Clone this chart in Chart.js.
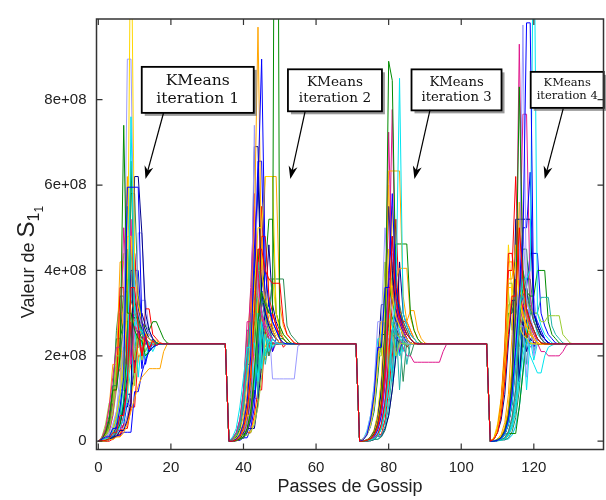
<!DOCTYPE html>
<html lang="fr">
<head>
<meta charset="utf-8">
<title>Valeur de S11 - passes de gossip</title>
<script src="https://cdn.jsdelivr.net/npm/chart.js@4.4.0/dist/chart.umd.min.js"></script>
<style>
  html, body { margin: 0; padding: 0; background: #fff; }
</style>
</head>
<body>
<canvas id="graphe" width="606" height="500"></canvas>
<script>
// ==================== DONNEES ====================
// passes de debut / fin de chaque iteration KMeans
const passesDebut = [0, 36, 72, 108];
const passesFin = [35, 71, 107, 139];
// valeur atteinte par tous les noeuds (unite 1e7)
const valeurFinale = 22.8;
const ticksX = [0, 20, 40, 60, 80, 100, 120];
const ticksY = [0, 2e8, 4e8, 6e8, 8e8];

// une ligne par noeud, valeurs par passe depuis le debut de l'iteration (unite 1e7)
const iteration1 = [
  [0,0.2,0.2,0.6,2,2,6,6,14,36,36,27,20,25,21.5,23.6,22.4,23,22.8],
  [0,0.5,1,1,3,3,8,15,59.5,59.5,59.5,59.5,28,24,21,22,22.5,22.8],
  [0,0.5,2,5,12,12,20,74,30,30,26,24,23.5,20,21,22,23,22.8],
  [0,0.3,0.6,0.6,2,2,3.5,5,10,76,30,26,26,24,23,22.8],
  [0,0,0.5,1,3,6,11,20,30,130,40,32,28,25,24,23,22.8],
  [0,0,0,0.4,0.4,1,1,2,4,7,10,13,15,16,17,17,17,17,21,22.8],
  [0,0.8,3,8,15,22,22,50,35,18,27,25,21,24,23,22.5,22.8],
  [0,0.5,1,2,4,7,12,25,89.5,89.5,35,30,27,25,24,23,22.8],
  [0,0.6,2.5,6,13,13,20,28,45,33,30,28,26,25,24,23.5,23,22.8],
  [0,0,0,0.4,1,1,2.5,2.5,5,9,62,62,48.8,30,26,24,23,22.8],
  [0,1,4,9,9,20,20,12,38,30,19,25,24,21,23,22.8],
  [0,0.2,0.5,1,1,3,6,14,55,40,32,28,25,24,23,22.8],
  [0,0.3,2,5,12,12,36,36,18,28,16,25,20,24,22,23,22.8],
  [0,0.3,0.6,0.6,1.2,1.2,1.5,2.1,2.1,2.1,11.6,11.6,16,19,21,22,22.5,22.8],
  [0,0,0.3,0.8,0.8,2,4,9,24,65.6,33,29,26,24,23,22.8],
  [0,0.2,0.4,1,2,2,5,10,18,12,28,15,24,19,23,21,22.8],
  [0,0.5,2,5,12,12,30,30,48,48,30,27,25,24,23,22.8],
  [0,1,3,8,18,18,42,42,30,30,27,20,20,24,23,22.8],
  [0,0,0.2,0.4,1,2.5,2.5,6,12,52,30,27,25,23.5,23,22.8],
  [0,0,0.2,0.5,1.5,1.5,3,3,6,12,22,48.8,48.8,28,25,24,23,22.8],
  [0,0.8,2,4,10,26,34,34,14,27,20,24,21,23,22.8],
  [0,0,0.3,0.8,0.8,2,4,8,16,40,40,31,28,26,24,23,22.8],
  [0,0.6,1.5,3,7,15,21,21,9,26,13,24,19,23,22.8],
  [0,0,0.4,1.2,3,6,11,19,25,30,30,27,25,24,23,22.8],
  [0,0,0,0,0.5,1.5,1.5,4,4,9,44,31,27,25,24,23,22.8],
  [0,0.2,0.5,1.2,1.2,2.5,2.5,4,9,8,44,30,17,25,21,23,22.8],
  [0,1,2.5,5,12,24,24,28,28,29,29,27,27,27,26,28,28,26,24,23,22.8],
  [0,0,0.3,1,2.5,5,10,19,26,33,33,27,25,24,23,22.8],
  [0,0.2,0.5,0.5,1,1,2,3.5,6,10,15,19,22,25,25,24,23.5,23,22.8],
  [0,0,0.2,0.6,1.8,4.5,12,35,62,40,30,27,25,23.5,22.8],
  [0,0.8,2,4.5,9,15,17,17,20,20,22,22,22.5,22.8],
  [0,0,0.5,1.2,3,7,16,30,30,38,29,26,25,24,23.2,22.8],
  [0,0,0.2,0.5,0.5,1.5,4,9,18,58,58,34,28,26,24,23,22.8],
  [0,0.2,0.5,1,2,3,5,8,8,12,19,26,30,27,25,24,23,22.8],
  [0,0.3,1,3,8,17,28,44,44,30,26,24,23,22.8],
  [0,0.2,0.6,1.4,3,6,12,22,32,36,29,27,25,24,23,22.8],
  [0,0,0.2,0.4,0.4,1.2,1.2,3,3,8,8,20,20,31,31,25,24,23,22.8],
  [0,0.1,0.3,1,1,4,12,12,20,24,40,40,26,18,22,24,23,22.8],
  [0,0.3,1.2,3.5,13,13,24,35,35,28,22,26,24,23.5,22.8],
  [0,0,0,0.3,0.9,2.5,6,15,15,22,30,30,27,21,23,22.8],
  [0,0.4,1.5,4,9,18,26,26,42,30,27,25,24,23,22.8],
  [0,0,0.3,0.8,1.6,3,8,14,14,18,25,34,28,24,23,22.8],
  [0,0.2,0.7,2,6,14,30,30,24,36,28,25,24,23,22.8],
  [0,0,0.1,0.3,1,3,5,9,14,20,25,25,33,33,26,24,23,22.8],
  [0,0.2,0.5,1,2.5,6,11,22,16,25,31,26,24,23,22.8],
  [0,0,0.2,0.6,1.4,2.5,5,7,11,11,17,23,27,25,24,23,22.8],
  [0,0.3,1,2.5,6,12,19,28,33,25,22,24,23,22.8],
  [0,0,0.2,0.5,1.2,1.2,2.8,6,12,45,31,27,25,24,23,22.8]
];

const iteration2 = [
  [0,0,0.3,1,3,7,15,30,45,45,40,38,37,37,37,28,25,24,23,22.8],
  [0,0,0.5,1.5,4,9,20,45,60,89.5,40,32,28,26,24,23,22.8],
  [0,0,0.2,0.5,1,3,7,16,28,35,32,30,30,250,24,24,23,22.8],
  [0,1,3,8,15,22,22,12,30,17,25,21,24,23,22.8],
  [0,0,0.3,1.2,3.5,8,18,35,50,50,62,62,62,30,26,24,23,22.8],
  [0,0,0.4,1.5,4,10,24,50,97,40,32,28,26,24,23,22.8],
  [0,0.6,2,5,12,28,28,55,38,30,27,25,24,23,22.8],
  [0,0,0.3,1,3,8,20,74,35,30,27,25,24,23,22.8],
  [0,0,0.2,0.5,0.8,2.5,6,13,24,32,33,30,38,38,38,38,27,25,24,23,22.8],
  [0,0,0.4,1.2,3.5,9,22,69,69,35,30,27,25,24,23,22.8],
  [0,0,1.4,1.4,1.4,1.4,2,4,8,15,24,27,26,24,23,22.8],
  [0,0.5,1.5,4,9,18,30,30,42,34,29,26,24,23,22.8],
  [0,0,0.3,0.6,1,2.5,6,14,26,48,48,34,30,27,25,24,23,22.8],
  [0,0,0.4,1.5,4,10,22,40,65.6,65.6,30,28,26,24,23,22.8],
  [0,0,0.2,0.8,1.5,2.5,6,14,28,36,40,52,52,30,27,25,24,23,22.8],
  [0,0.6,1.8,4.5,10,17,23,23,14,28,20,24,22,23,22.8],
  [0,0,0.3,0.6,1,3,7,16,32,44,34,30,27,25,24,23,22.8],
  [0,0,0.2,0.8,2.5,6,15,30,40,40,62,62,62,62,32,27,25,24,23,22.8],
  [0,0.5,1.5,4,9,20,36,58,34,29,26,24,23,22.8],
  [0,0,0.4,0.8,1.2,3.5,8,18,30,40,30,27,25,24,23,22.8],
  [0,0.8,2,5,12,26,26,40,18,27,25,20,23,22.8],
  [0,0,0.2,0.8,2,3,3,3,9,18,32,46,32,28,26,24,23,22.8],
  [0,0,0.3,1,2.8,7,15,26,33,29,27,25,24,23,22.8],
  [0,0.5,1.4,3.5,8,17,27,27,10,25,18,23,22,22.8],
  [0,0,0.3,1,3,7,17,36,36,55,31,28,26,24,23,22.8],
  [0,0,0.2,0.7,0.7,2,5,11,20,26,30,32,28,26,24,23,22.8],
  [0,0.5,1.5,4,9,19,28,28,16,24,20,23,22.8],
  [0,0,0.3,0.6,1,3,7,13,19,24,27,25,24,23,22.8],
  [0,0,0.2,0.5,0.8,2.2,2.2,5,10,18,28,38,38,30,27,25,24,23,22.8],
  [0,0.6,1.8,4.5,11,22,33,33,20,26,19,23,22.8],
  [0,0,0.3,1,3,7,14,22,30,44,32,28,26,24,23,22.8],
  [0,0,0.3,1,3,7,14,22,28,30,30,28,14.6,14.6,14.6,14.6,14.6,14.6,14.6,22.3,22.8],
  [0,0,0.2,0.5,0.7,2,5,12,24,40,31,27,25,24,23,22.8],
  [0,0,0.3,1,3,7,16,34,62,34,29,26,24,23,22.8],
  [0,0.5,1.5,4,10,21,35,35,12,29,20,24,23,22.8],
  [0,0,0.3,1.2,3.5,8,17,29,38,31,27,25,24,23,22.8],
  [0,0,0.1,0.4,1,2,2,6,12,12,26,20,30,27,24,22,23,22.8],
  [0,0,0.2,0.2,0.8,0.8,3,8,20,35,35,27,21,24,23,22.8],
  [0,0.3,1,3,8,18,18,32,45,30,26,24,23,22.8],
  [0,0,0.1,0.3,1,2.5,6,14,22,16,26,22,24,23,22.8],
  [0,0,0.4,1.2,3,6,6,14,14,30,30,25,24,23,22.8],
  [0,0.2,0.8,2.5,6,14,32,50,34,27,22,24,23,22.8],
  [0,0,0.2,0.6,1.6,4,9,18,26,34,28,24,21,23,22.8],
  [0,0,0.1,0.5,1.5,3.5,3.5,10,10,22,27,25,24,23,22.8],
  [0,0,0.3,1,2.6,6,12,26,38,29,27,25,24,23,22.8],
  [0,0,0.2,0.6,1.7,4,10,10,18,28,28,33,26,24,23,22.8],
  [0,0.2,0.6,1.8,4.5,10,20,20,26,23,25,24,23,22.8],
  [0,0,0.2,0.8,2.2,5,11,23,34,26,21,24,23,22.8]
];

const iteration3 = [
  [0,0,0.2,0.5,1.5,3.5,8,16,30,48,33,29,27,25,24,23,22.8],
  [0,0.3,1.5,5,11,22,22,36,36,58,36,30,27,25,24,23,22.8],
  [0,0,0.2,0.6,1.8,4,9,20,89,84.5,36,30,27,25,24,23,22.8],
  [0,0,0.1,0.3,0.6,1.2,3,7,14,26,34,85,30,27,25,24,23,22.8],
  [0,0.4,1.5,4,9,18,28,28,45,34,29,27,25,24,23,22.8],
  [0,0,0.3,0.8,2,5,10,24,63.3,63.3,63.3,63.3,34,28,26,24,23,22.8],
  [0,0,0.2,0.5,1.5,3.5,8,18,36,77.7,32,28,26,24,23,22.8],
  [0,0.5,2,6,13,28,28,50,36,30,27,25,24,23,22.8],
  [0,0,0.1,0.2,0.4,1.2,3,7,15,26,32,32,28,26,24,23,22.8],
  [0,0,0.3,0.9,2.2,5,12,26,55,40,31,28,26,24,23,22.8],
  [0,0.4,1.8,4.5,10,21,21,34,16,26,20,23,22.8],
  [0,0,0.2,0.2,0.5,0.5,1.4,3.5,8,16,28,12,25,18,23,22.8],
  [0,0,0.2,0.4,0.6,1.6,4,9,19,34,40,29,28,28,26,24,23,22.8],
  [0,0,0.2,0.6,1.6,4,10,22,40,48,33,29,26,24,23,22.8],
  [0,0,0.2,0.6,1.7,4,9,18,30,38,46.2,46.2,46.2,46.2,30,26,24,23,22.8],
  [0,0.5,2.4,6,13,24,24,34,30,27,25,24,23,22.8],
  [0,0,0.2,0.3,0.5,1.4,3.5,8,16,55,35,30,27,25,24,23,22.8],
  [0,0,0.2,0.7,1.8,4.5,10,20,32,36,38,40.5,40.5,40.5,29,26,24,23,22.8],
  [0,0,0.3,0.8,2,5,11,25,72.4,38,30,27,25,24,23,22.8],
  [0,0.4,1.5,3.6,8,17,28,28,15,25,20,23,22.8],
  [0,0,0.3,0.9,2.3,5.5,12,23,38,38,30,27,25,24,23,22.8],
  [0,0,0.1,0.1,0.4,1.2,1.2,3,6,12,20,42,30,27,25,24,23,22.8],
  [0,0.4,1.6,4,9,20,20,42,32,28,26,24,23,22.8],
  [0,0,0.2,0.3,0.5,1.3,3,7,14,22,27,27,25,24,23,22.8],
  [0,0,0.3,0.8,2,5,11,24,36,36,52,31,28,26,24,23,22.8],
  [0,0,0.2,0.3,0.6,1.5,3.8,9,18,26,31,28,25,24,23,22.8],
  [0,0.5,1.4,3.4,7,15,25,25,32,29,27,25,24,23,22.8],
  [0,0,0.3,0.8,2,5,11,22,30,14,24,20,23,22.8],
  [0,0,0.3,1,2.6,6.5,15,34,60,38,30,27,25,24,23,22.8],
  [0,0,0.2,0.6,1.5,3.8,9,19,30,35,33,30,28,28,30.6,30.6,26,24,23,22.8],
  [0,0,0.2,0.5,1.4,3.3,7,14,22,26,26,24,22,20,20,18.5,18.5,18.5,18.5,18.5,18.5,18.5,18.5,21,22.8],
  [0,0,0.2,0.4,0.7,1.8,4.4,10,21,44,31,28,26,24,23,22.8],
  [0,0,0.1,0.1,0.4,0.4,1,2.5,6,12,20,24,14,23.5,20,22.8],
  [0,0.6,1.6,4,9,19,32,32,27,25,24,23,22.8],
  [0,0,0.3,0.9,2.3,5.5,12,25,25,29,26,24,23,22.8],
  [0,0,0.2,0.6,1.5,3.6,8,16,27,36,30,27,25,24,23,22.8],
  [0,0,0,0.2,0.6,1.6,1.6,5,12,20,28,28,24,22,23,22.8],
  [0,0,0.1,0.4,1.1,2.7,6,14,30,42,28,20,25,23,22.8],
  [0,0,0.3,1,2.5,6,14,26,26,34,27,24,23,22.8],
  [0,0,0,0.3,0.8,2,4,4,10,20,31,26,21,24,23,22.8],
  [0,0,0.2,0.6,1.7,4.2,10,22,36,26,22,24,23,22.8],
  [0,0,0.1,0.4,1.2,3,3,8,18,32,40,29,26,24,23,22.8],
  [0,0,0.2,0.7,2,5,11,24,24,16,27,21,24,23,22.8],
  [0,0,0.1,0.3,1,2.4,5.5,12,22,36,28,25,24,23,22.8],
  [0,0,0.2,0.5,1.4,3.5,8,17,30,22,27,24,23,22.8],
  [0,0,0.1,0.4,1,2.6,6,13,20,20,34,28,25,24,23,22.8],
  [0,0,0.3,0.9,2.2,5.4,12,20,27,24,22,23,22.8],
  [0,0,0.2,0.6,1.5,3.6,8,8,18,26,29,25,24,23,22.8]
];

const iteration4 = [
  [0,0.5,2,6,14,25,34,34,50,38,31,28,26,24,23,22.8],
  [0,0,0.2,0.7,2,5,11,22,34,46,98,98,30,28,26,24,23,22.8],
  [0,0,0.3,0.9,2.5,6,14,30,83,40,31,28,26,24,23,22.8],
  [0,0,0.2,0.6,1.6,4,9,18,30,38,38,40,130,30,27,25,24,23,22.8],
  [0,0.6,2.5,7,15,28,35,42,33,29,27,25,24,23,22.8],
  [0,0.6,3,9,20,38,38,46,34,30,27,25,24,23,22.8],
  [0,0,0.3,0.9,2.5,6,14,32,93,38,30,27,25,24,23,22.8],
  [0,0,0.2,0.7,2,5,11,24,40,97.5,33,29,26,24,23,22.8],
  [0,0,0.2,0.4,0.8,2.2,5.5,12,26,40,36,31,28,26,24,23,22.8],
  [0,0,0.2,0.8,2.2,5.5,12,52,52,52,52,52,30,27,25,24,23,22.8],
  [0,0,0.3,0.9,2.4,6,13,25,34,36,33,31,30,30,28,28,29.4,29.4,29.4,29.4,25,24,23,22.8],
  [0,0,0.2,0.6,1.7,4.2,9.5,20,32,34,31,30,30,30,33.7,33.7,33.7,27,25,24,23,22.8],
  [0,0.6,2.5,8.5,19,40,40,62,36,30,27,25,24,23,22.8],
  [0,0,0.2,0.7,1.9,4.6,10,21,36,50,50,63,30,27,25,24,23,22.8],
  [0,0,0.2,0.6,1.6,4,9,19,30,36,35,34,34,40,40,40,28,25,24,23,22.8],
  [0,0,0.2,0.3,0.6,1.5,3.5,8,14,20,24,20,18,16,16,20,22,22.5,22.8],
  [0,0.5,2.2,8.2,18,36,36,30,27,25,24,23,22.8],
  [0,0,0.3,1.1,3,7.5,17,33,56,34,29,26,24,23,22.8],
  [0,0,0.2,0.7,1.8,4.4,10,21,40,76.6,76.6,34,28,26,24,23,22.8],
  [0,0,0.3,0.5,0.9,2.4,6,13,27,27,15,29,20,24,23,22.8],
  [0,0,0.2,0.6,1.6,4,9,18,28,45,45,32,28,26,24,23,22.8],
  [0,0.4,2,5,11,23,33,33,14,28,21,24,23,22.8],
  [0,0.6,2.5,8.5,19,37,37,31,28,26,24,23,22.8],
  [0,0,0.2,0.4,0.7,1.9,4.7,10,22,30,18,27,21,24,23,22.8],
  [0,0.5,2.2,9,21,44,44,33,29,27,25,24,23,22.8],
  [0,0,0.2,0.6,1.7,4.3,9.5,20,30,34,36,44,44,44,30,27,25,24,23,22.8],
  [0,0,0.5,0.5,1.8,1.8,1.8,1.8,8,16,24,30,30,27,25,24,23,22.8],
  [0,0,0.2,0.4,0.6,1.6,4,9,18,27,12,24,19,23,22.8],
  [0,0,0.4,1.2,3.3,8,18,34,52,36,30,27,25,24,23,22.8],
  [0,0.7,3,10,22,42,42,34,30,27,25,24,23,22.8],
  [0,0,0.2,0.6,1.5,3.8,8.5,17,26,32,30,27,25,23,21,21,20,20,20,20,21,22.5,22.8],
  [0,0,0.2,0.7,1.9,4.7,10,22,38,50,34,29,26,24,23,22.8],
  [0,0,0.1,0.3,0.3,0.8,2.2,5.5,12,25,38,38,30,27,25,24,23,22.8],
  [0,0,0.2,0.6,1.7,4,9,19,31,31,36,28,26,24,23,22.8],
  [0,0.5,2.8,7,16,32,32,29,27,25,24,23,22.8],
  [0,0,0.2,0.7,2,5,11,23,34,34,29,26,24,23,22.8],
  [0,0,0.3,1,2.8,7,16,34,45,28,24,26,23,22.8],
  [0,0,0.2,0.7,1.8,4.4,10,21,14,30,36,27,22,24,23,22.8],
  [0,0.5,2.6,6.5,15,30,30,38,26,22,24,23,22.8],
  [0,0,0.1,0.2,0.5,0.5,1.4,3.4,8,16,26,34,29,25,24,23,22.8],
  [0,0.8,4,10,23,46,34,28,25,24,23,22.8],
  [0,0,0.5,1.6,4.4,11,25,50,36,29,26,24,23,22.8],
  [0,0,0.2,0.7,2,5,11,24,36,28,24,22,23,22.8],
  [0,0,0.1,0.3,0.3,0.6,1.5,3.6,8,17,26,30,34,27,25,23,22.8],
  [0,0,0.3,0.9,2.4,6,14,28,28,22,25,23,22.8],
  [0,0,0.2,0.6,1.6,4,9,20,30,38,28,25,24,23,22.8],
  [0,0.6,3.2,8,18,35,26,30,27,24,23,22.8],
  [0,0,0.2,0.3,0.5,1.3,3.2,7,15,22,28,28,25,24,23,22.8]
];

const iterations = [iteration1, iteration2, iteration3, iteration4];

// ==================== STYLE ====================
const couleurs = ['#ff0000', '#0000ff', '#008b00', '#00e5ee', '#ffd700', '#ffa500',
                  '#e0188c', '#9a9aff', '#2e8b57', '#00008b', '#9acd32', '#20b2aa'];
const policeSans = '"Liberation Sans", Arial, sans-serif';
const policeSerif = '"DejaVu Serif", serif';
const couleurTexte = '#222';

// boites "KMeans iteration n" : centre en coordonnees du graphe, taille en px,
// largeurTexte = largeur voulue de la 2e ligne (sert a choisir la taille de police)
const annotations = [
  { lignes: ['KMeans', 'iteration 1'], x: 27.4, y: 82.3e7, w: 112, h: 46, largeurTexte: 83, de: [18.0, 77.0e7], vers: [13.0, 61.4e7] },
  { lignes: ['KMeans', 'iteration 2'], x: 65.2, y: 82.2e7, w: 94, h: 42, largeurTexte: 72, de: [57.0, 77.3e7], vers: [52.9, 61.4e7] },
  { lignes: ['KMeans', 'iteration 3'], x: 98.7, y: 82.3e7, w: 90, h: 41, largeurTexte: 70, de: [91.4, 77.6e7], vers: [87.1, 61.4e7] },
  { lignes: ['KMeans', 'iteration 4'], x: 129.2, y: 82.3e7, w: 73, h: 36, largeurTexte: 61, de: [128.1, 77.9e7], vers: [123.0, 61.4e7] }
];

// ==================== CONSTRUCTION DES SERIES ====================
const datasets = iteration1.map((_, noeud) => {
  const points = [];
  iterations.forEach((iter, k) => {
    const valeurs = iter[noeud];
    valeurs.forEach((v, i) => points.push({ x: passesDebut[k] + i, y: v * 1e7 }));
    const dernier = passesDebut[k] + valeurs.length - 1;
    if (dernier < passesFin[k]) points.push({ x: passesFin[k], y: valeurFinale * 1e7 });
  });
  return {
    data: points,
    borderColor: couleurs[noeud % couleurs.length],
    borderWidth: 1,
    pointRadius: 0,
    fill: false,
    tension: 0
  };
});

// ==================== PLUGIN CADRE / TEXTES ====================
function fleche(ctx, x1, y1, x2, y2) {
  const ang = Math.atan2(y2 - y1, x2 - x1);
  const L = 13, l = 4.5;
  ctx.beginPath();
  ctx.moveTo(x1, y1);
  ctx.lineTo(x2 - Math.cos(ang) * 8, y2 - Math.sin(ang) * 8);
  ctx.lineWidth = 1.2;
  ctx.strokeStyle = '#000';
  ctx.stroke();
  ctx.beginPath();
  ctx.moveTo(x2, y2);
  ctx.lineTo(x2 - L * Math.cos(ang) + l * Math.sin(ang), y2 - L * Math.sin(ang) - l * Math.cos(ang));
  ctx.lineTo(x2 - 9 * Math.cos(ang), y2 - 9 * Math.sin(ang));
  ctx.lineTo(x2 - L * Math.cos(ang) - l * Math.sin(ang), y2 - L * Math.sin(ang) + l * Math.cos(ang));
  ctx.closePath();
  ctx.fillStyle = '#000';
  ctx.fill();
}

const cadrePlugin = {
  id: 'cadre',
  afterDatasetsDraw(chart) {
    const { ctx, chartArea: a, scales: { x, y } } = chart;
    ctx.save();

    // boites d'annotation
    annotations.forEach(an => {
      const cx = x.getPixelForValue(an.x), cy = y.getPixelForValue(an.y);
      const bx = cx - an.w / 2, by = cy - an.h / 2;
      ctx.fillStyle = 'rgba(120,120,120,0.75)';
      ctx.fillRect(bx + 3, by + 3, an.w, an.h);
      ctx.fillStyle = '#fff';
      ctx.fillRect(bx, by, an.w, an.h);
      ctx.lineWidth = 1.8;
      ctx.strokeStyle = '#000';
      ctx.strokeRect(bx, by, an.w, an.h);
      ctx.font = '100px ' + policeSerif;
      const taille = 100 * an.largeurTexte / ctx.measureText(an.lignes[1]).width;
      ctx.fillStyle = '#111';
      ctx.font = taille.toFixed(1) + 'px ' + policeSerif;
      ctx.textAlign = 'center';
      ctx.textBaseline = 'middle';
      const pas = taille * 1.15;
      an.lignes.forEach((t, i) => ctx.fillText(t, cx, cy + (i - 0.5) * pas));
      fleche(ctx, x.getPixelForValue(an.de[0]), y.getPixelForValue(an.de[1]),
             x.getPixelForValue(an.vers[0]), y.getPixelForValue(an.vers[1]));
    });

    // cadre et graduations vers l'interieur
    ctx.strokeStyle = '#333';
    ctx.lineWidth = 1.5;
    ctx.strokeRect(a.left, a.top, a.right - a.left, a.bottom - a.top);
    ctx.lineWidth = 1.2;
    ctx.beginPath();
    ticksX.forEach(v => {
      const px = x.getPixelForValue(v);
      ctx.moveTo(px, a.bottom); ctx.lineTo(px, a.bottom - 6);
      ctx.moveTo(px, a.top); ctx.lineTo(px, a.top + 6);
    });
    ticksY.forEach(v => {
      const py = y.getPixelForValue(v);
      ctx.moveTo(a.left, py); ctx.lineTo(a.left + 6, py);
      ctx.moveTo(a.right, py); ctx.lineTo(a.right - 6, py);
    });
    ctx.stroke();

    // titre axe x
    ctx.fillStyle = couleurTexte;
    ctx.font = '18px ' + policeSans;
    ctx.textAlign = 'center';
    ctx.textBaseline = 'middle';
    ctx.fillText('Passes de Gossip', (a.left + a.right) / 2, 487);

    // titre axe y : Valeur de S_{1_1}
    ctx.translate(27, 262);
    ctx.rotate(-Math.PI / 2);
    ctx.textBaseline = 'alphabetic';
    ctx.textAlign = 'left';
    const morceaux = [
      { t: 'Valeur de ', f: 18, dy: 0 },
      { t: 'S', f: 24, dy: 0 },
      { t: '1', f: 16, dy: 5 },
      { t: '1', f: 12, dy: 9 }
    ];
    let total = 0;
    morceaux.forEach(m => { ctx.font = m.f + 'px ' + policeSans; m.w = ctx.measureText(m.t).width; total += m.w; });
    let px = -total / 2;
    morceaux.forEach(m => {
      ctx.font = m.f + 'px ' + policeSans;
      ctx.fillText(m.t, px, 7 + m.dy);
      px += m.w;
    });
    ctx.restore();
  }
};

// ==================== GRAPHIQUE ====================
new Chart(document.getElementById('graphe'), {
  type: 'line',
  data: { datasets },
  options: {
    responsive: false,
    animation: false,
    devicePixelRatio: 1,
    layout: { padding: { top: 7, right: 2.5, left: 0, bottom: 0 } },
    plugins: { legend: { display: false }, tooltip: { enabled: false } },
    scales: {
      x: {
        type: 'linear',
        min: -0.5,
        max: 139.2,
        afterBuildTicks: s => { s.ticks = ticksX.map(v => ({ value: v })); },
        afterFit: s => { s.height = 50.5; },
        grid: { display: false, drawTicks: false },
        border: { display: false },
        ticks: { color: couleurTexte, font: { family: policeSans, size: 15 }, padding: 9, maxRotation: 0 }
      },
      y: {
        type: 'linear',
        min: -1.94e7,
        max: 9.89e8,
        afterBuildTicks: s => { s.ticks = ticksY.map(v => ({ value: v })); },
        afterFit: s => { s.width = 96.5; },
        grid: { display: false, drawTicks: false },
        border: { display: false },
        ticks: {
          color: couleurTexte,
          font: { family: policeSans, size: 15 },
          padding: 10,
          callback: v => v === 0 ? '0' : (v / 1e8) + 'e+08'
        }
      }
    }
  },
  plugins: [cadrePlugin]
});
</script>
</body>
</html>
